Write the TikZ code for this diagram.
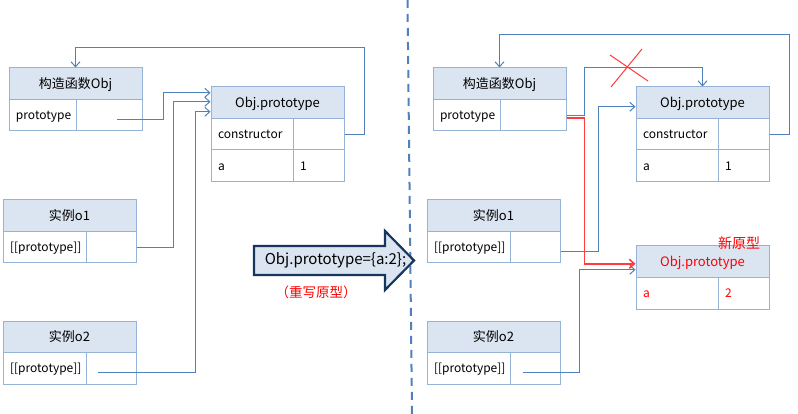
\documentclass[tikz,border=0pt]{standalone}
\usepackage{fontspec}
\setmainfont{Noto Sans CJK SC}
\usepackage{tikz}
\usetikzlibrary{arrows.meta}
\definecolor{boxline}{HTML}{95B3D7}
\definecolor{headfill}{HTML}{DBE5F1}
\definecolor{linkblue}{HTML}{4F81BD}
\definecolor{arrowline}{HTML}{17365D}
\definecolor{newred}{HTML}{FF3B3B}
\def\headfont{\fontsize{13}{15}\selectfont}
\def\boxfont{\fontsize{12}{14}\selectfont}
\tikzstyle{link} = [draw=linkblue,line width=1pt,->,>={Straight Barb[length=5pt,width=9pt]}]

\begin{document}
\begin{tikzpicture}[x=1pt,y=-1pt]
    \tikzstyle{head}=[rectangle,draw=boxline,fill=headfill,line width=1pt,minimum height=31.5pt,inner sep=0pt,font=\headfont,text height=11.5pt,text depth=2pt]
    \tikzstyle{cell}=[rectangle,draw=boxline,line width=1pt,minimum height=31.5pt,inner xsep=7pt,inner ysep=0pt,align=left,font=\boxfont,text height=11pt,text depth=2pt]
    \tikzstyle{new link}=[link,draw=newred,line width=1.6pt]
    \tikzstyle{cross}=[draw=newred,line width=1pt]
    \tikzstyle{divider}=[draw=linkblue,line width=2pt,dash pattern=on 8pt off 6pt]
    \tikzstyle{big arrow}=[draw=arrowline,fill=headfill,line width=2.2pt,line join=miter]
    \tikzstyle{note}=[text=red,font=\fontsize{13.5}{15}\selectfont,inner sep=0pt]

    \useasboundingbox (0,0) rectangle (798,414);

    % Draw the dividing line
    \draw[divider] (407.5,0) -- (412,414);

    % Draw the constructor boxes
    \foreach \side / \x in {L/9,R/433} {
        \node[head,minimum width=133pt] (\side-c-h) at (\x+66.5,83.75) {构造函数Obj};
        \node[cell,text width=53pt] (\side-c-l) at (\x+33.5,115.25) {prototype};
        \node[cell,text width=52pt] (\side-c-v) at (\x+100,115.25) {};
    }

    % Draw the prototype boxes
    \foreach \side / \x in {L/211,R/636} {
        \node[head,minimum width=133pt] (\side-p-h) at (\x+66.5,102.75) {Obj.prototype};
        \node[cell,text width=68pt] (\side-p-c) at (\x+41,134.25) {constructor};
        \node[cell,text width=37pt] (\side-p-cv) at (\x+107.5,134.25) {};
        \node[cell,text width=68pt] (\side-p-a) at (\x+41,165.75) {a};
        \node[cell,text width=37pt] (\side-p-av) at (\x+107.5,165.75) {1};
    }

    % Draw the instance boxes
    \foreach \name / \x / \y / \txt in {L-o1/3/200/实例o1,L-o2/3/321/实例o2,R-o1/427/200/实例o1,R-o2/427/321/实例o2} {
        \node[head,minimum width=133pt] (\name-h) at (\x+66.5,\y+15.75) {\txt};
        \node[cell,text width=69pt] (\name-l) at (\x+41.5,\y+47.25) {[[prototype]]};
        \node[cell,text width=36pt] (\name-v) at (\x+108,\y+47.25) {};
    }

    % Draw the new prototype
    \node[head,minimum width=133pt,text=red] (N-h) at (702.5,261.75) {Obj.prototype};
    \node[cell,text width=68pt,text=red] (N-a) at (677,293.25) {a};
    \node[cell,text width=37pt,text=red] (N-av) at (743.5,293.25) {2};
    \node[note,font=\fontsize{14}{16}\selectfont] (N-label) at (739,243) {新原型};

    % Draw the rewrite arrow
    \draw[big arrow] (254,246) -- (385,246) -- (385,231) -- (414,260.5) -- (385,290) -- (385,275) -- (254,275) -- cycle;
    \node[font=\fontsize{15}{18}\selectfont,inner sep=0pt] (rewrite) at (335.5,260.5) {Obj.prototype=\{a:2\};};
    \node[note] (rewrite-note) at (316,292.5) {（重写原型）};

    % Connect the left side
    \path[link] ([xshift=8pt,yshift=-4pt]L-c-v.center) -- ++(46,0) |- ([yshift=10pt]L-p-h.west);
    \path[link] (L-o1-v.east) -- ++(37,0) |- ([yshift=1pt]L-p-h.west);
    \path[link] ([xshift=-13pt,yshift=-4pt]L-o2-v.center) -- ++(97,0) |- ([yshift=-9pt]L-p-h.west);
    \path[link] (L-p-cv.east) -- ++(20,0) -- ++(0,-86.25) -| (L-c-h.north);

    % Connect the right side
    \path[link] (R-c-v.east) -- ++(18,0) -- ++(0,-48) -| (R-p-h.north);
    \path[link] ([yshift=-4.5pt]R-o1-v.east) -- ++(38,0) |- ([yshift=-4pt]R-p-h.west);
    \path[link] ([xshift=-12pt,yshift=-4pt]R-o2-v.center) -- ++(56,0) |- ([yshift=-8pt]N-h.west);
    \path[link] (R-p-cv.east) -- ++(20,0) -- ++(0,-99.25) -| (R-c-h.north);
    \path[new link] ([yshift=-3pt]R-c-v.east) -- ++(18,0) |- ([yshift=-2pt]N-h.west);

    % Cross out the old link
    \draw[cross] (610,55) -- (648,81) (642,49) -- (611,87);
\end{tikzpicture}
\end{document}
